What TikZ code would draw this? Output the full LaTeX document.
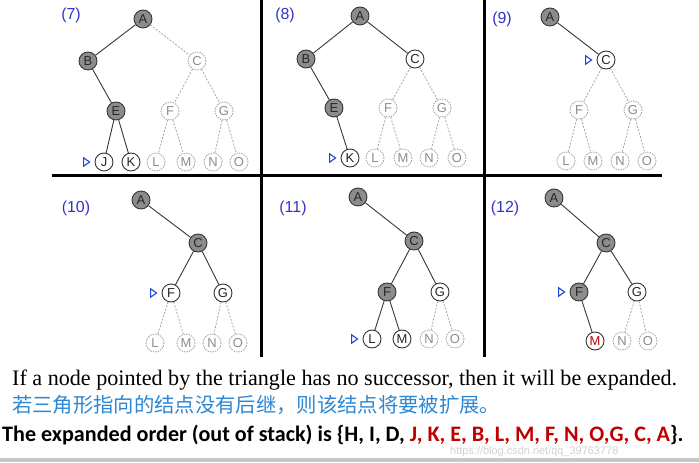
\documentclass[tikz,border=0pt]{standalone}
\usepackage{xcolor}
\usepackage{fontspec}
\setmainfont{Liberation Serif}
\setsansfont{Liberation Sans}
\newfontfamily\cjkfont{Noto Sans CJK SC}
\newfontfamily\boldsans{Carlito}
\usepackage{tikz}
\usetikzlibrary{positioning,shapes.geometric}

\definecolor{nodegray}{RGB}{140,140,140}
\definecolor{darkline}{RGB}{55,55,55}
\definecolor{lightline}{RGB}{165,165,165}
\definecolor{labelblue}{RGB}{50,50,200}
\definecolor{ptrblue}{RGB}{30,70,220}
\definecolor{cnblue}{RGB}{45,135,210}
\definecolor{orderred}{RGB}{192,0,0}

\begin{document}
\begin{tikzpicture}[
    x=1bp, y=-1bp,
    vis/.style={circle, draw=darkline, fill=nodegray, line width=0.9bp, minimum size=18bp, inner sep=0pt, font=\sffamily\fontsize{13}{13}\selectfont, text=black!85},
    open/.style={circle, draw=darkline, fill=white, line width=0.9bp, minimum size=18bp, inner sep=0pt, font=\sffamily\fontsize{13}{13}\selectfont, text=black!85},
    unvis/.style={circle, draw=lightline, fill=white, dashed, dash pattern=on 1.5bp off 1bp, line width=0.8bp, minimum size=18bp, inner sep=0pt, font=\sffamily\fontsize{13}{13}\selectfont, text=black!45},
    edge/.style={draw=darkline, line width=0.9bp},
    dashedge/.style={draw=lightline, dashed, dash pattern=on 2bp off 1.5bp, line width=0.8bp},
    ptr/.style={isosceles triangle, isosceles triangle apex angle=70, draw=ptrblue, fill=white, line width=1.1bp, inner sep=0pt, minimum width=6bp, minimum height=6bp},
    steplabel/.style={font=\sffamily\fontsize{16}{16}\selectfont, text=labelblue},
    grid/.style={line width=3bp, black}
  ]
  \useasboundingbox (0,0) rectangle (699,463);

  % Frame lines
  \draw[grid] (52,176) -- (662,176);
  \draw[grid] (261,0) -- (261,357);
  \draw[grid] (484,0) -- (484,357);

  % Panel (7)
  \node[steplabel] (lab7) at (71,15) {(7)};
  \node[vis] (a7) at (143,19) {A};
  \node[vis] (b7) at (88,61) {B};
  \node[unvis] (c7) at (197,61) {C};
  \node[vis] (e7) at (116,111) {E};
  \node[unvis] (f7) at (170,111) {F};
  \node[unvis] (g7) at (224,111) {G};
  \node[open] (j7) at (104,162) {J};
  \node[open] (k7) at (131,162) {K};
  \node[unvis] (l7) at (156,162) {L};
  \node[unvis] (m7) at (186,162) {M};
  \node[unvis] (n7) at (213,162) {N};
  \node[unvis] (o7) at (239,162) {O};
  \node[ptr, left=4bp of j7] (p7) {};
  \draw[edge] (a7) -- (b7);
  \draw[edge] (b7) -- (e7);
  \draw[edge] (e7) -- (j7);
  \draw[edge] (e7) -- (k7);
  \draw[dashedge] (a7) -- (c7);
  \draw[dashedge] (c7) -- (f7);
  \draw[dashedge] (c7) -- (g7);
  \draw[dashedge] (f7) -- (l7);
  \draw[dashedge] (f7) -- (m7);
  \draw[dashedge] (g7) -- (n7);
  \draw[dashedge] (g7) -- (o7);

  % Panel (8)
  \node[steplabel] (lab8) at (285,15) {(8)};
  \node[vis] (a8) at (360,16) {A};
  \node[vis] (b8) at (306,59) {B};
  \node[open] (c8) at (415,59) {C};
  \node[vis] (e8) at (334,108) {E};
  \node[unvis] (f8) at (388,108) {F};
  \node[unvis] (g8) at (442,108) {G};
  \node[open] (k8) at (350,158) {K};
  \node[unvis] (l8) at (375,158) {L};
  \node[unvis] (m8) at (403,158) {M};
  \node[unvis] (n8) at (429,158) {N};
  \node[unvis] (o8) at (457,158) {O};
  \node[ptr, left=4bp of k8] (p8) {};
  \draw[edge] (a8) -- (b8);
  \draw[edge] (a8) -- (c8);
  \draw[edge] (b8) -- (e8);
  \draw[edge] (e8) -- (k8);
  \draw[dashedge] (c8) -- (f8);
  \draw[dashedge] (c8) -- (g8);
  \draw[dashedge] (f8) -- (l8);
  \draw[dashedge] (f8) -- (m8);
  \draw[dashedge] (g8) -- (n8);
  \draw[dashedge] (g8) -- (o8);

  % Panel (9)
  \node[steplabel] (lab9) at (502,19) {(9)};
  \node[vis] (a9) at (550,17) {A};
  \node[open] (c9) at (606,60) {C};
  \node[unvis] (f9) at (579,110) {F};
  \node[unvis] (g9) at (633,110) {G};
  \node[unvis] (l9) at (566,161) {L};
  \node[unvis] (m9) at (593,161) {M};
  \node[unvis] (n9) at (620,161) {N};
  \node[unvis] (o9) at (647,161) {O};
  \node[ptr, left=4bp of c9] (p9) {};
  \draw[edge] (a9) -- (c9);
  \draw[dashedge] (c9) -- (f9);
  \draw[dashedge] (c9) -- (g9);
  \draw[dashedge] (f9) -- (l9);
  \draw[dashedge] (f9) -- (m9);
  \draw[dashedge] (g9) -- (n9);
  \draw[dashedge] (g9) -- (o9);

  % Panel (10)
  \node[steplabel] (lab10) at (76,208) {(10)};
  \node[vis] (a10) at (141,200) {A};
  \node[vis] (c10) at (198,243) {C};
  \node[open] (f10) at (171,293) {F};
  \node[open] (g10) at (223,293) {G};
  \node[unvis] (l10) at (155,343) {L};
  \node[unvis] (m10) at (186,343) {M};
  \node[unvis] (n10) at (212,343) {N};
  \node[unvis] (o10) at (238,343) {O};
  \node[ptr, left=4bp of f10] (p10) {};
  \draw[edge] (a10) -- (c10);
  \draw[edge] (c10) -- (f10);
  \draw[edge] (c10) -- (g10);
  \draw[dashedge] (f10) -- (l10);
  \draw[dashedge] (f10) -- (m10);
  \draw[dashedge] (g10) -- (n10);
  \draw[dashedge] (g10) -- (o10);

  % Panel (11)
  \node[steplabel] (lab11) at (293,208) {(11)};
  \node[vis] (a11) at (358,197) {A};
  \node[vis] (c11) at (414,241) {C};
  \node[vis] (f11) at (387,292) {F};
  \node[open] (g11) at (440,292) {G};
  \node[open] (l11) at (372,339) {L};
  \node[open] (m11) at (402,339) {M};
  \node[unvis] (n11) at (429,339) {N};
  \node[unvis] (o11) at (455,339) {O};
  \node[ptr, left=4bp of l11] (p11) {};
  \draw[edge] (a11) -- (c11);
  \draw[edge] (c11) -- (f11);
  \draw[edge] (c11) -- (g11);
  \draw[edge] (f11) -- (l11);
  \draw[edge] (f11) -- (m11);
  \draw[dashedge] (g11) -- (n11);
  \draw[dashedge] (g11) -- (o11);

  % Panel (12)
  \node[steplabel] (lab12) at (505,208) {(12)};
  \node[vis] (a12) at (554,198) {A};
  \node[vis] (c12) at (606,243) {C};
  \node[vis] (f12) at (579,292) {F};
  \node[open] (g12) at (637,292) {G};
  \node[open, text=orderred] (m12) at (595,341) {M};
  \node[unvis] (n12) at (622,341) {N};
  \node[unvis] (o12) at (648,341) {O};
  \node[ptr, left=4bp of f12] (p12) {};
  \draw[edge] (a12) -- (c12);
  \draw[edge] (c12) -- (f12);
  \draw[edge] (c12) -- (g12);
  \draw[edge] (f12) -- (m12);
  \draw[dashedge] (g12) -- (n12);
  \draw[dashedge] (g12) -- (o12);

  % Text below
  \node[anchor=west, inner sep=0pt, font=\fontsize{22.2}{22}\selectfont] (line1) at (12,380)
    {If a node pointed by the triangle has no successor, then it will be expanded.};
  \node[anchor=west, inner sep=0pt, font=\cjkfont\fontsize{20.4}{20}\selectfont, text=cnblue] (line2) at (12,405)
    {若三角形指向的结点没有后继，则该结点将要被扩展。};
  \node[anchor=west, inner sep=0pt, font=\boldsans\bfseries\fontsize{22.2}{22}\selectfont] (line3) at (2,435)
    {The expanded order (out of stack) is \{H, I, D, \textcolor{orderred}{J, K, E, B, L, M, F, N, O,G, C, A}\}.};
  \node[anchor=west, inner sep=0pt, font=\sffamily\fontsize{11}{11}\selectfont, text=black!18] (mark) at (450,452)
    {https://blog.csdn.net/qq\_39763778};
  \fill[black!22] (0,458) rectangle (699,462);
\end{tikzpicture}
\end{document}
